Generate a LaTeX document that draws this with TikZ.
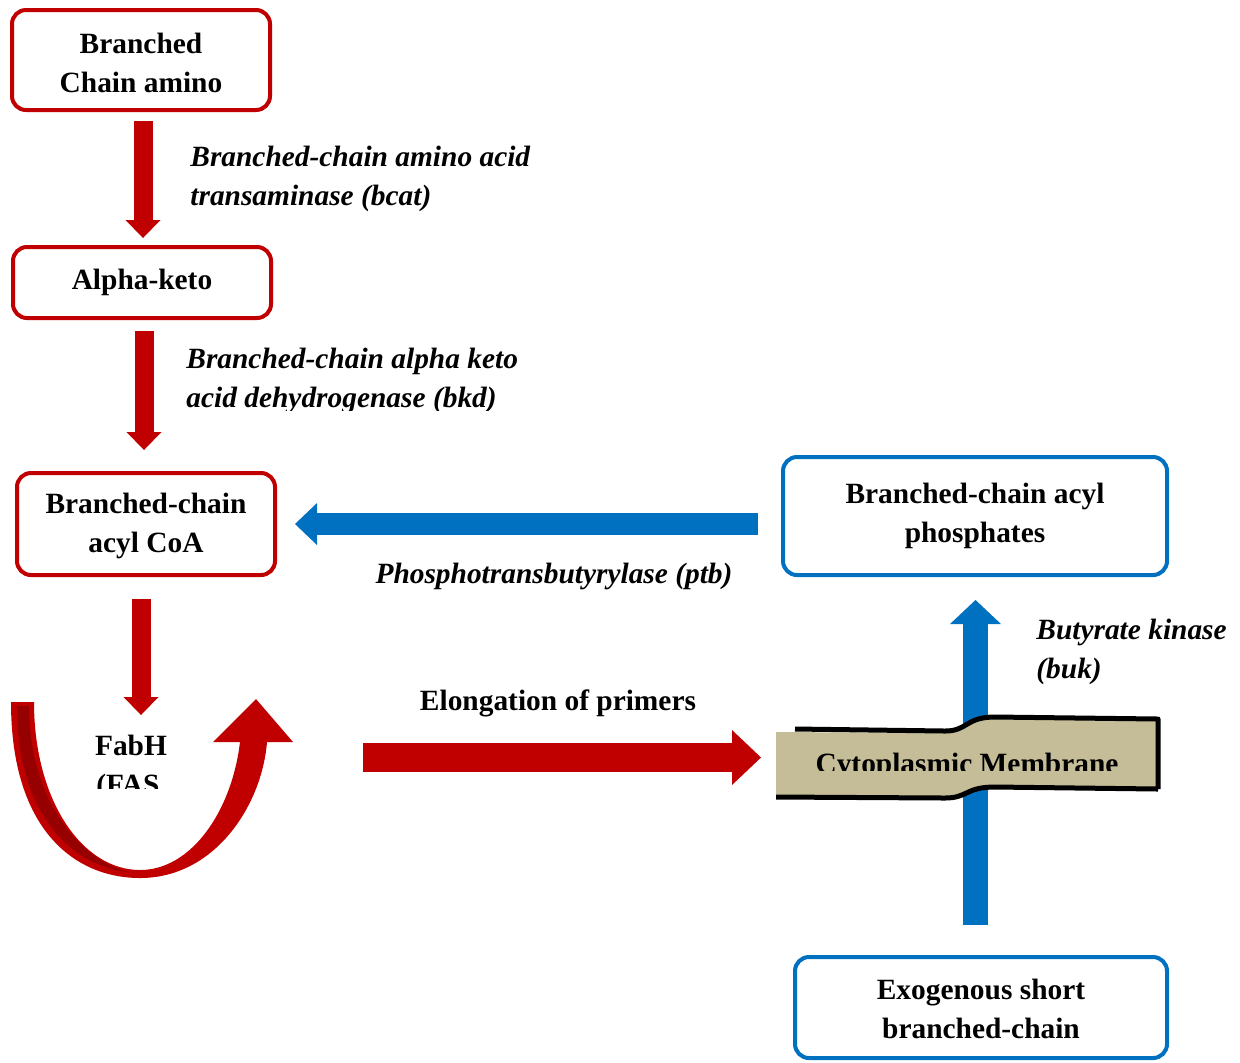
\documentclass[tikz,border=0pt]{standalone}
\usepackage{fontspec}
\setmainfont{Liberation Serif}
\usetikzlibrary{arrows.meta,calc}
\definecolor{myred}{HTML}{C00000}
\definecolor{myblue}{HTML}{0070C0}
\definecolor{deepred}{HTML}{960000}
\definecolor{membtan}{HTML}{C4BD97}
\begin{document}
\begin{tikzpicture}[x=0.5pt,y=-0.5pt,
  redbox/.style={draw=myred, line width=2pt, rounded corners=7pt, fill=white,
    font=\bfseries\fontsize{14.7}{19.5}\selectfont, align=center, inner sep=0pt},
  bluebox/.style={redbox, draw=myblue},
  lbl/.style={font=\bfseries\itshape\fontsize{14.7}{19.5}\selectfont, align=left, inner sep=0pt},
  plain/.style={font=\bfseries\fontsize{14.7}{19.5}\selectfont, inner sep=0pt},
  redarrow/.style={draw=myred, line width=9.5pt,
    -{Triangle[width=17.5pt,length=9pt,line width=0pt]}},
  bigred/.style={draw=myred, line width=14.5pt,
    -{Triangle[width=27.5pt,length=14.5pt,line width=0pt]}},
  bluearrowL/.style={draw=myblue, line width=11pt,
    -{Triangle[width=21pt,length=11pt,line width=0pt]}},
  bluearrowU/.style={draw=myblue, line width=12.5pt,
    -{Triangle[width=25.5pt,length=12pt,line width=0pt]}}
]
\useasboundingbox (0,0) rectangle (1240,1062);

% boxes
\node[redbox, minimum width=129pt, minimum height=50pt] (b1) at (141,60) {\rule{0pt}{13pt}Branched\\Chain amino};
\node[redbox, minimum width=129pt, minimum height=35.5pt] (b2) at (142,282.5) {Alpha-keto};
\node[redbox, minimum width=129pt, minimum height=51pt] (b3) at (146,524) {\rule{0pt}{12pt}Branched-chain\\acyl CoA};
\node[bluebox, minimum width=192pt, minimum height=59pt] (b4) at (975,516) {Branched-chain acyl\\phosphates};
\node[bluebox, minimum width=186pt, minimum height=50.5pt] (b5) at (981,1007.5) {\rule{0pt}{12pt}Exogenous short\\branched-chain};

% straight arrows
\coordinate (a1s) at ($(b1.south)+(2,9)$);
\coordinate (a1e) at (143,238);
\draw[redarrow] (a1s) -- (a1e);
\coordinate (a2s) at ($(b2.south)+(2,11)$);
\coordinate (a2e) at (144,450);
\draw[redarrow] (a2s) -- (a2e);
\coordinate (a3s) at ($(b3.south)+(-5,22)$);
\coordinate (a3e) at (141,715);
\draw[redarrow] (a3s) -- (a3e);
\coordinate (bls) at ($(b4.west)+(-23,8)$);
\coordinate (ble) at ($(b3.east)+(18,0)$);
\draw[bluearrowL] (bls) -- (ble);
\coordinate (bus) at ($(b5.north)+(-5.5,-30)$);
\coordinate (bue) at ($(b4.south)+(0.5,23)$);
\draw[bluearrowU] (bus) -- (bue);
\coordinate (rrs) at (363,757.5);
\coordinate (rre) at (761,757.5);
\draw[bigred] (rrs) -- (rre);

% labels
\node[lbl, anchor=north west] (l1) at (190,146) {Branched-chain amino acid\\transaminase (bcat)};
\begin{scope}
\clip (150,330) rectangle (600,410);
\node[lbl, anchor=north west] (l2) at (186,348) {Branched-chain alpha keto\\acid dehydrogenase (bkd)};
\end{scope}
\node[lbl, anchor=base] (l3) at (554,583) {Phosphotransbutyrylase (ptb)};
\node[lbl, anchor=north west] (l4) at (1036,619) {Butyrate kinase\\(buk)};
\node[plain, anchor=base] (l5) at (558,710) {Elongation of primers};

% FabH
\node[plain, anchor=base] (fab) at (131,755) {FabH};
\begin{scope}
\clip (60,760) rectangle (200,788);
\node[plain, anchor=base west] (fas) at (96,794) {(FAS};
\end{scope}

% curved arrow
\fill[myred] (11,702) .. controls (11,830) and (75,878) .. (140,878)
  .. controls (215,878) and (262,805) .. (267,742)
  -- (293,742) -- (256,699) -- (213,742) -- (240,742)
  .. controls (232,810) and (192,870) .. (140,870)
  .. controls (82,870) and (34,800) .. (34,702) -- cycle;
\fill[deepred] (17,706) .. controls (17,815) and (72,866) .. (128,872)
  .. controls (80,860) and (29,800) .. (29,706) -- cycle;

% membrane banner
\fill[membtan] (776,732) -- (945,733) .. controls (968,733) and (965,719) .. (995,719)
  -- (1158,720) -- (1158,788) -- (995,786) .. controls (965,786) and (968,797) .. (945,797)
  -- (776,796) -- cycle;
\draw[line width=2.5pt, line join=round] (795,729) -- (945,731) .. controls (968,731) and (965,717) .. (995,717)
  -- (1158,719) -- (1158,789);
\draw[line width=2.5pt, line join=round] (1158,789) -- (995,787) .. controls (965,787) and (968,798) .. (945,798) -- (776,797);
\begin{scope}
\clip (770,700) rectangle (1170,770);
\node[plain, anchor=base] (memb) at (967,773) {Cytoplasmic Membrane};
\end{scope}
\end{tikzpicture}
\end{document}
